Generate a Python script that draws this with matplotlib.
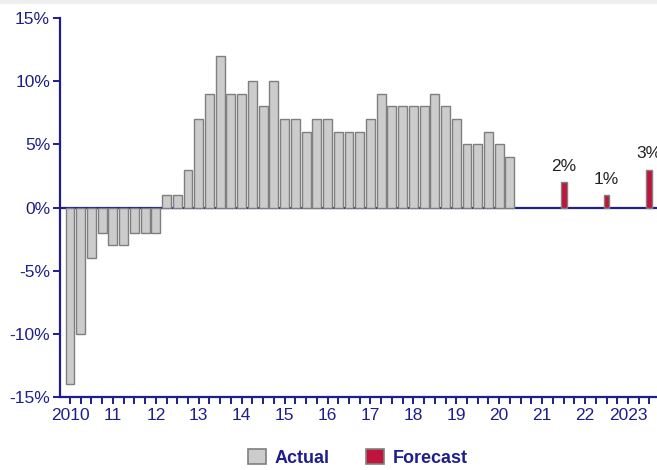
import matplotlib
matplotlib.use("Agg")
import matplotlib.pyplot as plt
from matplotlib.patches import Patch, Rectangle

plt.rcParams["font.family"] = ["Liberation Sans", "DejaVu Sans"]

# Quarterly growth, 2010 Q1 onward (percent)
actual_values = [-14, -10, -4, -2,
                 -3, -3, -2, -2,
                 -2, 1, 1, 3,
                 7, 9, 12, 9,
                 9, 10, 8, 10,
                 7, 7, 6, 7,
                 7, 6, 6, 6,
                 7, 9, 8, 8,
                 8, 8, 9, 8,
                 7, 5, 5, 6,
                 5, 4]
# Forecasts: quarter index (from 2010 Q1) and value
forecast_quarters = [46, 50, 54]
forecast_values = [2, 1, 3]

year_labels = ["2010", "11", "12", "13", "14", "15", "16", "17",
               "18", "19", "20", "21", "22", "2023"]
y_ticks = [-15, -10, -5, 0, 5, 10, 15]
y_tick_labels = [f"{v}%" for v in y_ticks]

NAVY = "#1e1e8c"
GREY_FILL = "#cccccc"
GREY_EDGE = "#7f7f7f"
RED = "#c0143c"

W, H = 657, 470
fig = plt.figure(figsize=(W / 100, H / 100), dpi=100)
fig.patch.set_facecolor("white")

# thin grey strip along the top edge
fig.patches.append(Rectangle((0, 1 - 4 / H), 1, 4 / H, transform=fig.transFigure,
                             facecolor="#efefef", edgecolor="none", zorder=0))

x_left, x_right = -0.95, 56.0
px_per_q = 10.73
left_px = 70 + x_left * px_per_q
right_px = 70 + x_right * px_per_q
top_px, bot_px = 18, 397
ax = fig.add_axes([left_px / W, 1 - bot_px / H,
                   (right_px - left_px) / W, (bot_px - top_px) / H])

ax.axhline(0, color=NAVY, lw=1.6, zorder=1)

ax.bar(range(len(actual_values)), actual_values, width=0.83,
       color=GREY_FILL, edgecolor=GREY_EDGE, linewidth=1.0, zorder=2)
ax.bar(forecast_quarters, forecast_values, width=0.55,
       color=RED, edgecolor=GREY_EDGE, linewidth=1.0, zorder=2)

for q, v in zip(forecast_quarters, forecast_values):
    ax.annotate(f"{v}%", (q, v), xytext=(0, 6), textcoords="offset points",
                ha="center", va="bottom", fontsize=12.5, color="#222222",
                annotation_clip=False)

ax.set_xlim(x_left, x_right)
ax.set_ylim(-15, 15)

for side in ("top", "right"):
    ax.spines[side].set_visible(False)
for side in ("left", "bottom"):
    ax.spines[side].set_color(NAVY)
    ax.spines[side].set_linewidth(1.6)

ax.set_yticks(y_ticks)
ax.set_yticklabels(y_tick_labels)

n_ticks = 56
ax.set_xticks(range(n_ticks))
labels = [""] * n_ticks
for i, lab in enumerate(year_labels):
    labels[i * 4] = lab
ax.set_xticklabels(labels)

ax.tick_params(axis="both", colors=NAVY, labelcolor=NAVY, labelsize=12.5,
               width=1.4, length=5, direction="out")
ax.tick_params(axis="x", pad=3)
ax.tick_params(axis="y", pad=2)

handles = [Patch(facecolor=GREY_FILL, edgecolor=GREY_EDGE, linewidth=1.2),
           Patch(facecolor=RED, edgecolor=GREY_EDGE, linewidth=1.2)]
fig.legend(handles, ["Actual", "Forecast"], loc="center",
           bbox_to_anchor=(358 / W, 1 - 458 / H), ncol=2, frameon=False,
           prop={"weight": "bold", "size": 13}, labelcolor=NAVY,
           handlelength=1.0, handleheight=0.85, handletextpad=0.5,
           columnspacing=2.0)

fig.savefig("out.png", dpi=100)
